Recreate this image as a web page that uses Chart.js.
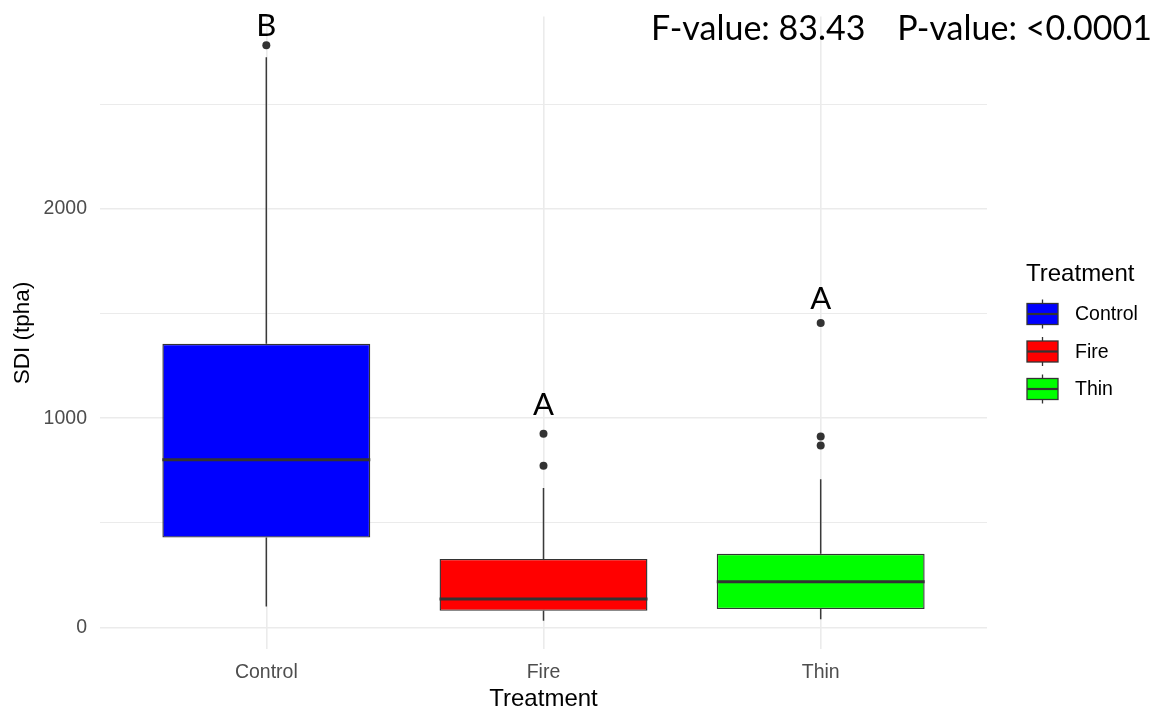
<!DOCTYPE html>
<html><head><meta charset="utf-8">
<script src="https://cdn.jsdelivr.net/npm/chart.js@4.4.1/dist/chart.umd.min.js"></script>
<style>html,body{margin:0;padding:0;background:#fff}canvas{display:block}</style>
</head><body>
<canvas id="c" width="1160" height="717"></canvas>
<script>
// ---- data ----
const categories = ['Control', 'Fire', 'Thin'];
const q1 = [430, 80, 88];
const median = [802, 136, 219];
const q3 = [1356, 328, 352];
const whiskerLow = [100, 33, 39];
const whiskerHigh = [2725, 667, 709];
const outControl = [2783];
const outFire = [926, 773];
const outThin = [1455, 913, 870];
const letters = ['B', 'A', 'A'];
const letterY = [2827, 1017, 1524];
const yTicks = [0, 500, 1000, 1500, 2000, 2500];
const fValueText = 'F-value: 83.43';
const pValueText = 'P-value: <0.0001';
const boxColors = ['#0000FF', '#FF0000', '#00FF00'];

const outliers = [outControl, outFire, outThin];
const LINE = '#333333';
const SANS = '"Liberation Sans", Arial, sans-serif';
const CAL = 'Lato, "Open Sans", sans-serif';

const boxPlugin = {
  id: 'boxExtras',
  beforeDatasetsDraw(chart) {
    const {ctx, scales: {x, y}} = chart;
    ctx.save();
    ctx.strokeStyle = '#3a3a3a'; ctx.lineWidth = 1.5;
    categories.forEach((c, i) => {
      const px = x.getPixelForValue(i + 1);
      ctx.beginPath();
      ctx.moveTo(px, y.getPixelForValue(q3[i])); ctx.lineTo(px, y.getPixelForValue(whiskerHigh[i]));
      ctx.moveTo(px, y.getPixelForValue(q1[i])); ctx.lineTo(px, y.getPixelForValue(whiskerLow[i]));
      ctx.stroke();
    });
    ctx.restore();
  },
  afterDatasetsDraw(chart) {
    const {ctx, scales: {y}} = chart;
    const meta = chart.getDatasetMeta(0);
    ctx.save();
    ctx.strokeStyle = LINE; ctx.lineWidth = 3;
    meta.data.forEach((el, i) => {
      const {x: bx, width} = el.getProps(['x', 'width'], true);
      const py = y.getPixelForValue(median[i]);
      ctx.beginPath();
      ctx.moveTo(bx - width / 2, py); ctx.lineTo(bx + width / 2, py);
      ctx.stroke();
    });
    ctx.restore();
  },
  afterDraw(chart) {
    const {ctx, scales: {x, y}} = chart;
    ctx.save();
    // significance letters
    ctx.fillStyle = '#000';
    ctx.font = '31px ' + CAL;
    ctx.textAlign = 'center'; ctx.textBaseline = 'alphabetic';
    letters.forEach((t, i) => ctx.fillText(t, x.getPixelForValue(i + 1), y.getPixelForValue(letterY[i])));
    // stats text
    ctx.font = '34px ' + CAL;
    ctx.textAlign = 'left';
    ctx.fillText(fValueText, 651, 40);
    ctx.textAlign = 'right';
    ctx.fillText(pValueText, 1152, 40);
    // legend
    ctx.textAlign = 'left';
    ctx.font = '24px ' + SANS;
    ctx.fillText('Treatment', 1026, 281);
    const centers = [314, 351.5, 389];
    ctx.font = '19.5px ' + SANS;
    categories.forEach((c, i) => {
      const cy = centers[i], x0 = 1027, w = 31, h = 21, cx = x0 + w / 2;
      ctx.strokeStyle = LINE; ctx.lineWidth = 1.3;
      ctx.beginPath();
      ctx.moveTo(cx, cy - h / 2 - 4); ctx.lineTo(cx, cy - h / 2);
      ctx.moveTo(cx, cy + h / 2); ctx.lineTo(cx, cy + h / 2 + 4);
      ctx.stroke();
      ctx.fillStyle = boxColors[i];
      ctx.fillRect(x0, cy - h / 2, w, h);
      ctx.strokeRect(x0, cy - h / 2, w, h);
      ctx.lineWidth = 2.2;
      ctx.beginPath(); ctx.moveTo(x0, cy); ctx.lineTo(x0 + w, cy); ctx.stroke();
      ctx.fillStyle = '#000'; ctx.textBaseline = 'middle';
      ctx.fillText(c, 1075, cy + 1);
      ctx.textBaseline = 'alphabetic';
    });
    ctx.restore();
  }
};

const outlierPoints = [];
outliers.forEach((arr, i) => arr.forEach(v => outlierPoints.push({x: i + 1, y: v})));

new Chart(document.getElementById('c'), {
  type: 'bar',
  data: {
    datasets: [
      {
        type: 'bar',
        data: categories.map((c, i) => ({x: i + 1, y: [q1[i], q3[i]]})),
        backgroundColor: boxColors,
        borderColor: LINE,
        borderWidth: 1.4,
        borderSkipped: false,
        categoryPercentage: 1,
        barPercentage: 0.75
      },
      {
        type: 'scatter',
        data: outlierPoints,
        pointRadius: 4,
        pointBackgroundColor: LINE,
        pointBorderColor: LINE,
        pointBorderWidth: 0
      }
    ]
  },
  options: {
    responsive: false,
    animation: false,
    events: [],
    layout: {padding: {top: 16.4, right: 173, bottom: 0, left: 0}},
    plugins: {legend: {display: false}, tooltip: {enabled: false}},
    scales: {
      x: {
        type: 'linear', min: 0.4, max: 3.6, offset: false,
        afterBuildTicks: s => { s.ticks = categories.map((c, i) => ({value: i + 1})); },
        afterFit: s => { s.height = 67.6; s.paddingLeft = 0; s.paddingRight = 0; },
        ticks: {
          callback: v => categories[v - 1] || '',
          color: '#4d4d4d', font: {size: 19.5, family: SANS}, padding: 12,
          autoSkip: false, maxRotation: 0
        },
        grid: {color: '#ebebeb', lineWidth: 1.6, drawTicks: false, offset: false},
        border: {display: false},
        title: {display: true, text: 'Treatment', color: '#000',
          font: {size: 24, family: SANS, lineHeight: 1}, padding: {top: 0, bottom: 6}}
      },
      y: {
        type: 'linear', min: -104.5, max: 2920.5,
        afterBuildTicks: s => { s.ticks = yTicks.map(v => ({value: v})); },
        afterFit: s => { s.width = 100; s.paddingTop = 0; s.paddingBottom = 0; },
        ticks: {
          callback: v => (v % 1000 === 0 ? String(v) : ''),
          color: '#4d4d4d', font: {size: 19.5, family: SANS}, padding: 13
        },
        grid: {color: '#ebebeb', lineWidth: c => (c.tick && c.tick.value % 1000 === 0 ? 1.6 : 1), drawTicks: false},
        border: {display: false},
        title: {display: true, text: 'SDI (tpha)', color: '#000',
          font: {size: 22.5, family: SANS, lineHeight: 1}, padding: {top: 12, bottom: 0}}
      }
    }
  },
  plugins: [boxPlugin]
});
</script>
</body></html>
